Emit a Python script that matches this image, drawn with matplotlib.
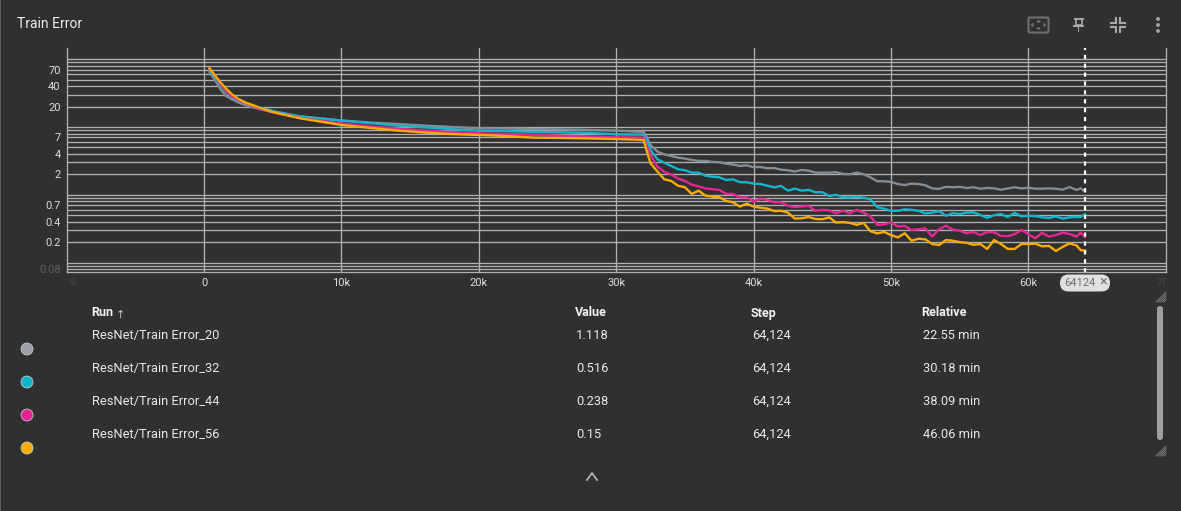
import matplotlib
matplotlib.use('Agg')
import matplotlib.pyplot as plt
from matplotlib.patches import Circle, FancyBboxPatch, Rectangle, Polygon

BG = '#303030'

# steps, same grid for all four runs
steps = [400, 800, 1200, 1600, 2000, 2500, 3000, 4000, 5000, 7000,
         10000, 12000, 14000, 16000, 18000, 20000, 22000, 24000, 26000, 28000, 30000,
         32000, 32200] + list(range(32500, 64000, 500)) + [63800, 64124]

err_20 = [65, 49, 36, 28.6, 25.9, 23, 21.1, 18.4, 16.6, 14.3,
          12.47, 11.65, 11.07, 10.5, 10, 9.57, 9.5, 9.28, 9.2, 9.03, 8.82,
          8.44, 7.2, 5.43, 4.32, 3.95, 3.73, 3.53, 3.41, 3.26, 3.16, 3.16, 3.05, 3.02, 2.88, 2.79, 2.66, 2.72,
          2.55, 2.57, 2.46, 2.48, 2.34, 2.3, 2.2, 2.32, 2.27, 2.12, 2.12, 2.12, 2.15, 2.03, 2.01, 2.12, 2.01,
          1.81, 1.58, 1.58, 1.55, 1.44, 1.39, 1.46, 1.44, 1.38, 1.24, 1.22, 1.31, 1.29, 1.31, 1.26, 1.29, 1.23,
          1.26, 1.24, 1.19, 1.24, 1.29, 1.24, 1.27, 1.23, 1.23, 1.24, 1.23, 1.19, 1.30, 1.18, 1.24, 1.118]

err_32 = [69, 53.7, 41.6, 32.8, 28.2, 24.6, 22.6, 19.4, 17.2, 14.3,
          12.4, 11.45, 10.5, 9.9, 9.28, 8.82, 8.67, 8.44, 8.35, 8.16, 7.8,
          7.7, 6.43, 4.58, 3.34, 2.97, 2.66, 2.38, 2.3, 2.12, 2.12, 1.91, 1.85, 1.81, 1.65, 1.69, 1.53, 1.53,
          1.46, 1.44, 1.36, 1.29, 1.35, 1.15, 1.23, 1.15, 1.18, 1.09, 1.09, 0.96, 1.0, 0.92, 0.91, 0.94, 0.90,
          0.86, 0.655, 0.625, 0.58, 0.58, 0.61, 0.60, 0.58, 0.53, 0.545, 0.575, 0.49, 0.535, 0.52, 0.545, 0.55, 0.505,
          0.455, 0.50, 0.52, 0.47, 0.54, 0.48, 0.49, 0.485, 0.465, 0.455, 0.48, 0.445, 0.465, 0.47, 0.47, 0.516]

err_44 = [71.8, 56.6, 43, 34, 28.7, 25, 22.6, 18.8, 16.4, 13.6,
          11.25, 10.3, 9.5, 8.88, 8.44, 8.07, 7.88, 7.67, 7.44, 7.24, 7.05,
          6.95, 5.43, 3.87, 2.6, 2.17, 2.0, 1.73, 1.6, 1.41, 1.33, 1.24, 1.21, 1.18, 1.03, 1.03, 0.91, 0.92,
          0.79, 0.88, 0.84, 0.775, 0.775, 0.685, 0.66, 0.67, 0.69, 0.58, 0.60, 0.59, 0.535, 0.58, 0.535, 0.60, 0.545,
          0.48, 0.36, 0.365, 0.39, 0.34, 0.347, 0.303, 0.31, 0.32, 0.242, 0.31, 0.35, 0.306, 0.295, 0.27, 0.283, 0.255,
          0.283, 0.28, 0.247, 0.245, 0.262, 0.303, 0.262, 0.228, 0.274, 0.242, 0.255, 0.276, 0.264, 0.242, 0.276, 0.238]

err_56 = [73.5, 57.5, 45.4, 37, 30.7, 25.9, 23, 19.4, 16.6, 13.4,
          10.7, 9.73, 8.88, 8.3, 7.88, 7.62, 7.36, 6.95, 6.88, 6.77, 6.65,
          6.43, 4.58, 2.91, 2.2, 1.69, 1.6, 1.36, 1.29, 1.03, 1.15, 0.97, 0.94, 0.92, 0.81, 0.775, 0.67, 0.74,
          0.67, 0.645, 0.625, 0.575, 0.58, 0.545, 0.445, 0.45, 0.47, 0.44, 0.435, 0.465, 0.39, 0.395, 0.385, 0.36, 0.385,
          0.29, 0.27, 0.283, 0.255, 0.235, 0.27, 0.21, 0.225, 0.22, 0.188, 0.182, 0.215, 0.21, 0.2, 0.196, 0.183, 0.188,
          0.159, 0.215, 0.188, 0.159, 0.159, 0.188, 0.188, 0.19, 0.174, 0.176, 0.148, 0.171, 0.192, 0.179, 0.153, 0.15]

series = [err_20, err_32, err_44, err_56]
line_colors = ['#848c94', '#12b5cb', '#e52592', '#f9ab00']
dot_colors = ['#9aa0a6', '#12b5cb', '#e52592', '#f9ab00']

run_names = ['ResNet/Train Error_20', 'ResNet/Train Error_32', 'ResNet/Train Error_44', 'ResNet/Train Error_56']
run_values = ['1.118', '0.516', '0.238', '0.15']
run_steps = ['64,124', '64,124', '64,124', '64,124']
run_relative = ['22.55 min', '30.18 min', '38.09 min', '46.06 min']

y_grid = [0.08, 0.09, 0.1, 0.2, 0.3, 0.4, 0.5, 0.6, 0.7, 0.8, 0.9, 1,
          2, 3, 4, 5, 6, 7, 8, 9, 10, 20, 30, 40, 50, 60, 70, 80, 90, 100]
y_labels = {0.08: '0.08', 0.2: '0.2', 0.4: '0.4', 0.7: '0.7', 2: '2', 4: '4', 7: '7', 20: '20', 40: '40', 70: '70'}
x_grid = [0, 10000, 20000, 30000, 40000, 50000, 60000]
x_labels = ['0', '10k', '20k', '30k', '40k', '50k', '60k']
hover_step = 64124

W, H = 1181, 511
plt.rcParams['font.family'] = ['Roboto', 'DejaVu Sans']
fig = plt.figure(figsize=(W / 100, H / 100), dpi=100, facecolor=BG)

# main chart
ax = fig.add_axes([67 / W, 1 - 272.3 / H, (1166 - 67) / W, (272.3 - 48) / H], facecolor=BG)
ax.set_yscale('log')
ax.set_xlim(-9971, 70015)
ax.set_ylim(0.0719, 146)
ax.set_yticks(y_grid)
ax.set_yticklabels([y_labels.get(v, '') for v in y_grid])
ax.minorticks_off()
ax.set_xticks(x_grid)
ax.set_xticklabels(x_labels)
ax.tick_params(axis='both', length=0, labelsize=8, colors='#dcdcdc')
ax.tick_params(axis='y', pad=4.5)
ax.tick_params(axis='x', pad=4)
ax.yaxis.get_ticklabels()[0].set_color('#5e5e5e')
ax.grid(True, color='#b0b0b0', linewidth=0.95)
ax.set_axisbelow(True)
for side in ['left', 'right', 'bottom']:
    ax.spines[side].set_color('#b0b0b0')
    ax.spines[side].set_linewidth(0.95)
ax.spines['top'].set_visible(False)

for vals, col in zip(series, line_colors):
    ax.plot(steps, vals, color=col, linewidth=1.7, solid_joinstyle='round')

ax.axvline(hover_step, color='white', linewidth=1.6, linestyle=(0, (1.9, 2.1)), snap=False)

# everything else is placed in pixels on a second axes
px = fig.add_axes([0, 0, 1, 1], facecolor='none')
px.set_xlim(0, W)
px.set_ylim(H, 0)
px.axis('off')

px.add_patch(Rectangle((0, 0), 1, H, color='#5a5a5a', lw=0))
px.text(17, 24.5, 'Train Error', color='#ececec', fontsize=10, va='center')

# clipped tick labels at both ends of the x axis
clip = Rectangle((70, 270), 1096, 30, transform=px.transData)
for x, label in [(67, '-10k'), (1166, '70k')]:
    t = px.text(x, 282.5, label, color='#454545', fontsize=8, ha='center', va='center', clip_on=True)
    t.set_clip_path(clip)

# toolbar icons
icon = '#a8a8a8'
px.add_patch(FancyBboxPatch((1028.5, 17.5), 20, 15, boxstyle='round,pad=0,rounding_size=1.5',
                            fill=False, edgecolor='#6e6e6e', linewidth=1.5))
px.add_patch(Polygon([(1038.5, 20.5), (1037, 22), (1040, 22)], color='#6e6e6e'))
px.add_patch(Polygon([(1038.5, 29.5), (1037, 28), (1040, 28)], color='#6e6e6e'))
px.add_patch(Polygon([(1031.5, 25), (1033, 23.5), (1033, 26.5)], color='#6e6e6e'))
px.add_patch(Polygon([(1045.5, 25), (1044, 23.5), (1044, 26.5)], color='#6e6e6e'))
px.add_patch(Rectangle((1073.5, 18), 10, 2, color=icon, lw=0))
px.add_patch(Rectangle((1075.5, 19), 6, 6.5, fill=False, edgecolor=icon, linewidth=1.2))
px.add_patch(Rectangle((1073, 25), 11, 2, color=icon, lw=0))
px.add_patch(Rectangle((1077.6, 26), 1.8, 6.5, color=icon, lw=0))
for x0, y0, dx, dy in [(1116, 23, -5, -5), (1120, 23, 5, -5), (1116, 27, -5, 5), (1120, 27, 5, 5)]:
    px.plot([x0 + dx, x0, x0], [y0, y0, y0 + dy], color=icon, linewidth=1.5, solid_joinstyle='miter')
for y in [19, 25, 31]:
    px.add_patch(Circle((1158, y), 1.9, color=icon, lw=0))

# hover chip under the dashed line
px.add_patch(FancyBboxPatch((1060, 274.5), 50, 17, boxstyle='round,pad=0,rounding_size=8.5',
                            facecolor='#e0e0e0', edgecolor='none'))
px.text(1064, 283.5, '64124', color='#6e6e6e', fontsize=8, va='center')
px.text(1103, 282, '×', color='#6e6e6e', fontsize=10.5, ha='center', va='center')

# run table
px.text(91, 313, 'Run', color='#f2f2f2', fontsize=9, fontweight='bold', va='center')
px.text(120, 315, '↑', color='#c8c8c8', fontsize=8, ha='center', va='center', family='DejaVu Sans')
for x, label in [(575, 'Value'), (751, 'Step'), (921, 'Relative')]:
    px.text(x, 313, label, color='#f2f2f2', fontsize=9, fontweight='bold', va='center')

for i in range(len(run_names)):
    y = 335.5 + i * 33
    px.text(92, y, run_names[i], color='#e8e8e8', fontsize=9.3, va='center')
    px.text(576, y, run_values[i], color='#e8e8e8', fontsize=9.3, va='center')
    px.text(752.5, y, run_steps[i], color='#e8e8e8', fontsize=9.3, va='center')
    px.text(923, y, run_relative[i], color='#e8e8e8', fontsize=9.3, va='center')
    px.add_patch(Circle((27, 349 + i * 33), 6, facecolor=dot_colors[i], edgecolor='#d8d8d8', linewidth=0.5))

# scrollbar, expand chevron, resize handles
px.add_patch(FancyBboxPatch((1157, 306), 6, 134, boxstyle='round,pad=0,rounding_size=3',
                            facecolor='#9e9e9e', edgecolor='none'))
px.plot([587, 592, 597], [480, 473, 480], color='#b0b0b0', linewidth=1.3)
for xr, yb in [(1166, 302), (1166, 456)]:
    for k in [2, 4, 6, 8, 10]:
        px.plot([xr - k, xr], [yb, yb - k], color='#777777', linewidth=0.7)

fig.savefig('out.png', dpi=100, facecolor=BG)
